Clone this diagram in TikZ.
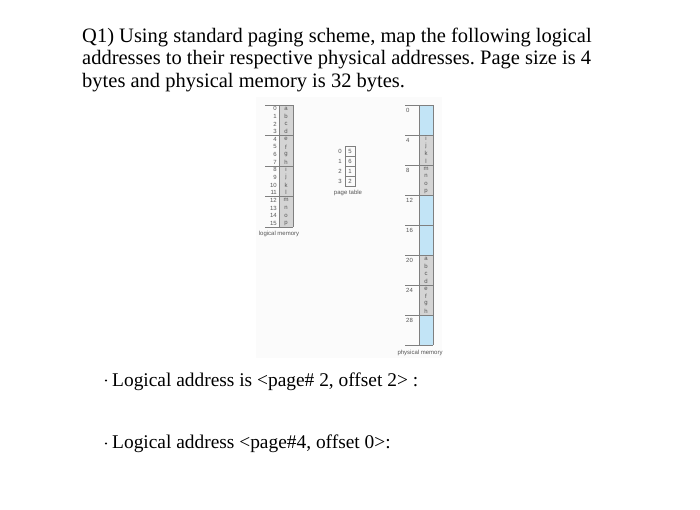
\documentclass[tikz,border=0pt]{standalone}
\usepackage{fontspec}
\setmainfont{Liberation Serif}
\newfontfamily\figfont{Liberation Sans}
\frenchspacing
\begin{document}
\begin{tikzpicture}[x=1pt, y=-1pt]
    % Define colours
    \definecolor{cellGrey}{HTML}{D4D4D4}
    \definecolor{frameBlue}{HTML}{C2E4F6}
    \definecolor{lineColour}{HTML}{7F7F7F}
    \definecolor{labelColour}{HTML}{555555}
    \definecolor{paperColour}{HTML}{FBFBFB}

    % Define styles
    \tikzset{
        tiny/.style={font=\figfont\fontsize{6}{6.5}\selectfont, text=labelColour, inner sep=0pt},
        question/.style={font=\fontsize{20.5}{23}\selectfont, anchor=base west, inner sep=0pt},
        bullet/.style={font=\fontsize{19.4}{22}\selectfont, anchor=base west, inner sep=0pt},
        grid/.style={draw=lineColour, line width=0.5pt}
    }

    % Define sizes
    \def\rowH{7.625}
    \def\frameH{30}

    % Fix the page
    \useasboundingbox (0,0) rectangle (700,509);
    \fill[white] (0,0) rectangle (700,509);
    \fill[paperColour] (256,97) rectangle (442,358);

    % Question text
    \node[question] (q1) at (82,42) {Q1) Using standard paging scheme, map the following logical};
    \node[question] (q2) at (82,64.5) {addresses to their respective physical addresses. Page size is 4};
    \node[question] (q3) at (82,87) {bytes and physical memory is 32 bytes.};

    % Logical memory
    \fill[cellGrey] (279,105) rectangle (293,227);
    \foreach \i/\c in {0/a,1/b,2/c,3/d,4/e,5/f,6/g,7/h,8/i,9/j,10/k,11/l,12/m,13/n,14/o,15/p} {
        \node[tiny, anchor=east] (ln\i) at (277,105+\i*\rowH+0.5*\rowH) {\i};
        \node[tiny] (lc\i) at (286,105+\i*\rowH+0.5*\rowH) {\c};
    }
    \foreach \k in {0,...,4}
        \draw[grid] (265,105+\k*4*\rowH) -- (293,105+\k*4*\rowH);
    \draw[grid] (279,105) -- (279,227);
    \draw[grid] (293,105) -- (293,227);
    \node[tiny] (lmlabel) at (279,233.5) {logical memory};

    % Page table
    \foreach \i/\f in {0/5,1/6,2/1,3/2} {
        \node[tiny] (pi\i) at (340,151+\i*10) {\i};
        \node[tiny] (pf\i) at (350,151+\i*10) {\f};
        \draw[grid] (345,146+\i*10) rectangle (355,156+\i*10);
    }
    \node[tiny] (ptlabel) at (348,193) {page table};

    % Physical memory
    \fill[frameBlue] (419,105) rectangle (433,345);
    \fill[cellGrey] (419,135) rectangle (433,195);
    \fill[cellGrey] (419,255) rectangle (433,315);
    \foreach \k in {0,...,7} {
        \pgfmathtruncatemacro{\addr}{4*\k}
        \node[tiny, anchor=west] (pa\k) at (406,105+\k*\frameH+5.5) {\addr};
        \draw[grid] (405,105+\k*\frameH) -- (433,105+\k*\frameH);
    }
    \draw[grid] (405,345) -- (433,345);
    \draw[grid] (419,105) -- (419,345);
    \draw[grid] (433,105) -- (433,345);
    \foreach \c [count=\n from 0] in {i,j,k,l,m,n,o,p}
        \node[tiny] (fa\n) at (426,135+\n*7.5+3.75) {\c};
    \foreach \c [count=\n from 0] in {a,b,c,d,e,f,g,h}
        \node[tiny] (fb\n) at (426,255+\n*7.5+3.75) {\c};
    \node[tiny] (pmlabel) at (420,352.5) {physical memory};

    % Questions
    \fill (106,380.5) circle (1.2);
    \node[bullet] (b1) at (112,386) {Logical address is <page\# 2, offset 2> :};
    \fill (106,443.5) circle (1.2);
    \node[bullet] (b2) at (112,448.5) {Logical address <page\#4, offset 0>:};

\end{tikzpicture}
\end{document}
